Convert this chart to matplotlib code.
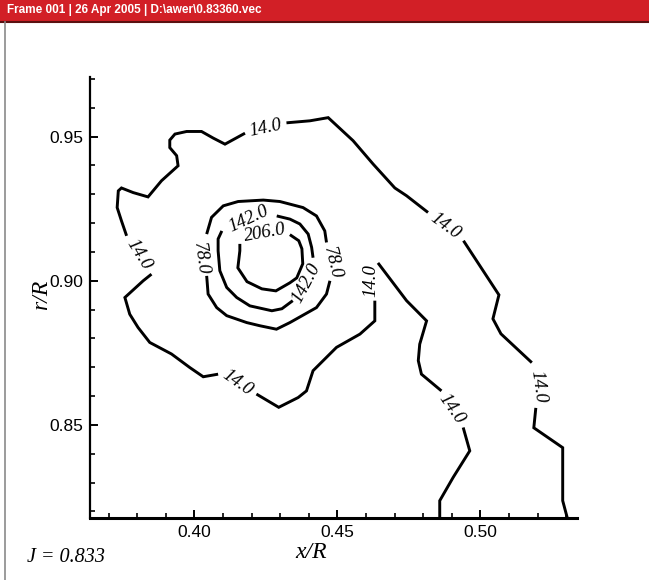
import matplotlib
matplotlib.use("Agg")
import matplotlib.pyplot as plt
from matplotlib.ticker import FixedLocator, MultipleLocator
from matplotlib.patches import Rectangle
from matplotlib.lines import Line2D

# ---- contour lines (x/R, r/R), split where the level labels sit ----
# level 14.0: one long open line
c14_pieces = [
    ([0.4858, 0.4858, 0.4905, 0.4963, 0.4940],
     [0.8170, 0.8237, 0.8318, 0.8410, 0.8491]),
    ([0.4864, 0.4794, 0.4783, 0.4788, 0.4812, 0.4742, 0.4642],
     [0.8618, 0.8676, 0.8723, 0.8780, 0.8861, 0.8931, 0.9062]),
    ([0.4631, 0.4631, 0.4579, 0.4497, 0.4415, 0.4392, 0.4363, 0.4295, 0.4217],
     [0.8931, 0.8861, 0.8815, 0.8769, 0.8688, 0.8618, 0.8595, 0.8561, 0.8607]),
    ([0.4083, 0.4031, 0.3984, 0.3920, 0.3844, 0.3803, 0.3774, 0.3757, 0.3821, 0.3850],
     [0.8676, 0.8667, 0.8699, 0.8746, 0.8786, 0.8838, 0.8884, 0.8942, 0.9000, 0.9023]),
    ([0.3763, 0.3745, 0.3730, 0.3734, 0.3745, 0.3786, 0.3838, 0.3885, 0.3943,
      0.3938, 0.3914, 0.3914, 0.3932, 0.3973, 0.4025, 0.4066, 0.4107, 0.4177],
     [0.9156, 0.9208, 0.9254, 0.9312, 0.9322, 0.9306, 0.9291, 0.9347, 0.9399,
      0.9434, 0.9462, 0.9488, 0.9509, 0.9518, 0.9518, 0.9495, 0.9474, 0.9512]),
    ([0.4322, 0.4404, 0.4468, 0.4555, 0.4625, 0.4701, 0.4742, 0.4817],
     [0.9548, 0.9555, 0.9566, 0.9486, 0.9405, 0.9322, 0.9295, 0.9237]),
    ([0.4941, 0.5065, 0.5044, 0.5072, 0.5180],
     [0.9139, 0.8951, 0.8868, 0.8816, 0.8716]),
    ([0.5194, 0.5187, 0.5288, 0.5288, 0.5306],
     [0.8559, 0.8490, 0.8421, 0.8237, 0.8170]),
]

# level 78.0: closed ring around the vortex core
c78_pieces = [
    ([0.4474, 0.4462, 0.4427, 0.4334, 0.4287, 0.4229, 0.4183, 0.4113, 0.4078, 0.4048, 0.4043],
     [0.9000, 0.8954, 0.8907, 0.8855, 0.8832, 0.8844, 0.8855, 0.8879, 0.8907, 0.8954, 0.9017]),
    ([0.4043, 0.4060, 0.4101, 0.4153, 0.4241, 0.4299, 0.4380, 0.4427, 0.4456, 0.4462],
     [0.9162, 0.9220, 0.9260, 0.9275, 0.9280, 0.9275, 0.9254, 0.9225, 0.9173, 0.9133]),
]

# level 142.0
c142_pieces = [
    ([0.4344, 0.4306, 0.4271, 0.4194, 0.4148, 0.4113, 0.4089, 0.4083, 0.4083, 0.4096],
     [0.8931, 0.8903, 0.8896, 0.8913, 0.8942, 0.8977, 0.9035, 0.9104, 0.9145, 0.9173]),
    ([0.4288, 0.4334, 0.4369, 0.4398, 0.4410, 0.4415],
     [0.9225, 0.9214, 0.9197, 0.9162, 0.9116, 0.9080]),
]

# level 206.0: innermost ring
c206_pieces = [
    ([0.4334, 0.4365, 0.4376, 0.4379, 0.4358, 0.4334, 0.4285, 0.4236, 0.4184, 0.4152, 0.4159, 0.4159],
     [0.9160, 0.9139, 0.9111, 0.9059, 0.9010, 0.8993, 0.8965, 0.8972, 0.8997, 0.9045, 0.9104, 0.9128]),
]

# ---- level labels ----
label_text = ["14.0", "14.0", "14.0", "14.0", "14.0", "14.0", "14.0",
              "78.0", "78.0", "142.0", "142.0", "206.0"]
label_x = [0.4899, 0.4617, 0.4152, 0.3806, 0.4247, 0.4879, 0.5201,
           0.4023, 0.4481, 0.4191, 0.4390, 0.4247]
label_y = [0.8556, 0.9000, 0.8646, 0.9090, 0.9531, 0.9191, 0.8632,
           0.9076, 0.9062, 0.9215, 0.8993, 0.9166]
label_rot = [-55, 90, -35, -58, 12, -36, -82,
             -82, -76, 25, 62, 10]

# ---- axes ticks ----
x_major = [0.40, 0.45, 0.50]
x_major_labels = ["0.40", "0.45", "0.50"]
y_major = [0.85, 0.90, 0.95]
y_major_labels = ["0.85", "0.90", "0.95"]

W, H = 649, 580
fig = plt.figure(figsize=(W / 100, H / 100), dpi=100)
fig.patch.set_facecolor("white")

ax = fig.add_axes([90 / W, 62 / H, 487 / W, 441 / H])
ax.set_xlim(0.3635, 0.5338)
ax.set_ylim(0.8177, 0.9707)

for pieces in (c14_pieces, c78_pieces, c142_pieces, c206_pieces):
    for xs, ys in pieces:
        ax.plot(xs, ys, color="black", lw=2.1, solid_joinstyle="miter",
                solid_capstyle="butt")

for t, x, y, r in zip(label_text, label_x, label_y, label_rot):
    ax.text(x, y, t, rotation=r, rotation_mode="anchor", ha="center", va="center",
            fontsize=13.5, family="Liberation Serif", style="italic", color="black")

for side in ("top", "right"):
    ax.spines[side].set_visible(False)
ax.spines["left"].set_linewidth(1.6)
ax.spines["bottom"].set_linewidth(2.2)

ax.xaxis.set_major_locator(FixedLocator(x_major))
ax.set_xticklabels(x_major_labels)
ax.yaxis.set_major_locator(FixedLocator(y_major))
ax.set_yticklabels(y_major_labels)
ax.xaxis.set_minor_locator(MultipleLocator(0.01))
ax.yaxis.set_minor_locator(MultipleLocator(0.01))
ax.tick_params(which="major", direction="in", length=6, width=1.4, pad=5,
               labelsize=12.5, colors="black")
ax.tick_params(which="minor", direction="in", length=3.6, width=1.2)
for lab in ax.get_xticklabels() + ax.get_yticklabels():
    lab.set_family("Liberation Sans")

ax.patch.set_alpha(0)

# axis titles and annotation
fig.text(311 / W, 1 - 552 / H, "x/R", ha="center", va="center", fontsize=17,
         family="Liberation Serif", style="italic")
fig.text(42 / W, 1 - 295 / H, "r/R", ha="center", va="center", fontsize=17,
         rotation=90, family="Liberation Serif", style="italic")
fig.text(27 / W, 1 - 557 / H, "J = 0.833", ha="left", va="center", fontsize=14.5,
         family="Liberation Serif", style="italic")

# frame header bar
fig.patches.append(Rectangle((0, 1 - 21 / H), 1, 21 / H, transform=fig.transFigure,
                             facecolor="#d21f26", edgecolor="none", zorder=5))
fig.add_artist(Line2D([0, 1], [1 - 22 / H, 1 - 22 / H], transform=fig.transFigure,
                      color="#5a1010", lw=1.5, zorder=6))
fig.add_artist(Line2D([5 / W, 5 / W], [0, 1 - 22 / H], transform=fig.transFigure,
                      color="#8a8a8a", lw=1.2, zorder=6))
fig.text(7 / W, 1 - 10.5 / H, "Frame 001 | 26 Apr 2005 | D:\\awer\\0.83360.vec",
         ha="left", va="center", fontsize=8.5, fontweight="bold", color="white",
         family=["Liberation Sans Narrow", "Liberation Sans"], zorder=7)

fig.savefig("out.png", dpi=100, facecolor="white")
